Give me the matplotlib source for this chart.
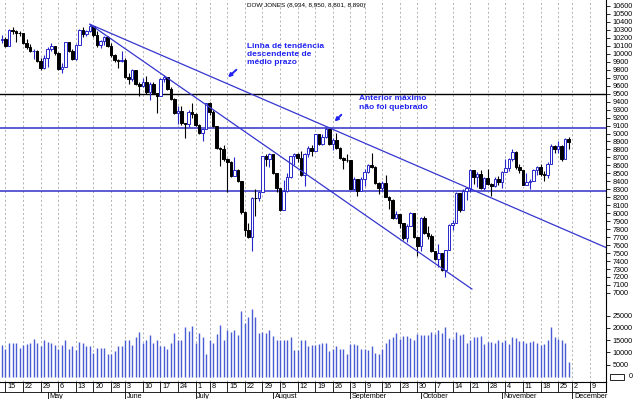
import matplotlib
matplotlib.use('Agg')
import matplotlib.pyplot as plt
import numpy as np
import pandas as pd
from matplotlib.patches import Rectangle

plt.rcParams['font.family'] = ['Liberation Sans', 'DejaVu Sans']

# ---------------- data ----------------
holidays = ['2002-05-27', '2002-07-04', '2002-09-02', '2002-11-28']
axis_dates = [d for d in pd.bdate_range('2002-04-12', '2002-12-13')
              if d.strftime('%Y-%m-%d') not in holidays]

opens = [10176, 10191, 10094, 10301, 10281, 10262, 10257, 10136, 10089, 10030,
         10035, 9911, 9820, 9946, 10060, 10092, 10007, 9808, 9837, 10142,
         10037, 9940, 10110, 10298, 10244, 10289, 10353, 10230, 10106, 10158,
         10216, 10104, 9982, 9923, 9912, 9925, 9710, 9688, 9797, 9625,
         9590, 9645, 9517, 9618, 9503, 9474, 9687, 9706, 9562, 9432,
         9254, 9282, 9127, 9120, 9270, 9243, 9110, 9008, 9055, 9380,
         9275, 9096, 8814, 8802, 8685, 8639, 8473, 8542, 8409, 8019,
         7785, 7702, 8191, 8186, 8264, 8712, 8680, 8737, 8507, 8313,
         8044, 8274, 8456, 8712, 8745, 8689, 8482, 8743, 8818, 8778,
         8991, 8872, 8957, 9054, 8873, 8919, 8824, 8694, 8670, 8664,
         8308, 8425, 8284, 8427, 8519, 8603, 8581, 8379, 8313, 8380,
         8208, 8172, 7942, 7986, 7872, 7683, 7842, 7997, 7701, 7592,
         7939, 7756, 7717, 7528, 7423, 7501, 7286, 7534, 7850, 7877,
         8256, 8036, 8275, 8322, 8538, 8450, 8494, 8317, 8444, 8368,
         8338, 8428, 8397, 8518, 8572, 8678, 8771, 8586, 8537, 8359,
         8386, 8398, 8542, 8579, 8487, 8475, 8623, 8845, 8805, 8849,
         8676, 8934]
highs = [10230, 10215, 10315, 10330, 10300, 10290, 10265, 10180, 10120, 10060,
         10050, 9950, 9980, 10080, 10130, 10095, 10020, 9880, 10150, 10150,
         10060, 10120, 10310, 10330, 10300, 10370, 10355, 10290, 10170, 10220,
         10220, 10130, 10000, 9930, 10040, 9950, 9760, 9810, 9800, 9640,
         9700, 9720, 9640, 9650, 9510, 9700, 9740, 9710, 9580, 9440,
         9340, 9350, 9130, 9290, 9380, 9260, 9120, 9060, 9380, 9400,
         9290, 9100, 8830, 8860, 8690, 8660, 8700, 8560, 8410, 8030,
         7880, 8200, 8300, 8270, 8720, 8740, 8750, 8740, 8510, 8320,
         8420, 8500, 8720, 8760, 8750, 8780, 8750, 8840, 8850, 9000,
         9000, 8990, 9077, 9060, 8940, 9010, 8830, 8700, 8740, 8665,
         8450, 8430, 8450, 8560, 8620, 8760, 8590, 8390, 8400, 8480,
         8220, 8175, 8030, 7990, 7880, 7870, 8010, 8000, 7705, 7950,
         7960, 7840, 7740, 7530, 7620, 7505, 7540, 7870, 7910, 8260,
         8256, 8300, 8330, 8550, 8540, 8520, 8540, 8460, 8560, 8380,
         8460, 8470, 8530, 8680, 8690, 8800, 8775, 8620, 8540, 8500,
         8430, 8550, 8590, 8620, 8530, 8640, 8870, 8850, 8900, 8860,
         8940, 8950]
lows = [10140, 10080, 10094, 10250, 10150, 10220, 10120, 10060, 10020, 9930,
        9900, 9800, 9815, 9830, 10030, 9990, 9800, 9760, 9837, 10020,
        9920, 9920, 10110, 10210, 10220, 10270, 10210, 10090, 10070, 10110,
        10090, 9960, 9900, 9820, 9900, 9700, 9620, 9660, 9610, 9470,
        9580, 9500, 9420, 9490, 9260, 9474, 9640, 9540, 9420, 9240,
        9120, 9110, 8940, 9080, 9200, 9090, 8990, 8900, 9055, 9230,
        9080, 8800, 8590, 8660, 8260, 8450, 8470, 8390, 7990, 7720,
        7690, 7532, 7960, 8150, 8264, 8590, 8580, 8490, 8260, 8030,
        8044, 8270, 8440, 8610, 8640, 8470, 8340, 8710, 8720, 8778,
        8860, 8850, 8940, 8860, 8790, 8800, 8680, 8550, 8640, 8300,
        8290, 8210, 8284, 8340, 8500, 8570, 8370, 8240, 8280, 8200,
        8050, 7930, 7930, 7810, 7670, 7640, 7840, 7690, 7460, 7520,
        7740, 7680, 7510, 7410, 7330, 7280, 7197, 7534, 7790, 7877,
        8020, 8036, 8170, 8270, 8370, 8330, 8300, 8290, 8350, 8210,
        8330, 8350, 8320, 8518, 8530, 8650, 8560, 8500, 8350, 8350,
        8300, 8398, 8480, 8470, 8400, 8440, 8623, 8760, 8760, 8660,
        8676, 8801]
closes = [10191, 10094, 10301, 10281, 10262, 10257, 10136, 10089, 10030, 10035,
          9911, 9820, 9946, 10060, 10092, 10007, 9808, 9837, 10142, 10037,
          9940, 10110, 10298, 10244, 10289, 10353, 10230, 10106, 10158, 10216,
          10104, 9982, 9923, 9912, 9925, 9710, 9688, 9797, 9625, 9590,
          9645, 9517, 9618, 9503, 9474, 9687, 9706, 9562, 9432, 9254,
          9282, 9127, 9120, 9270, 9243, 9110, 9008, 9055, 9380, 9275,
          9096, 8814, 8802, 8685, 8639, 8473, 8542, 8409, 8019, 7785,
          7702, 8191, 8186, 8264, 8712, 8680, 8737, 8507, 8313, 8044,
          8274, 8456, 8712, 8745, 8689, 8482, 8743, 8818, 8778, 8991,
          8872, 8957, 9054, 8873, 8919, 8824, 8694, 8670, 8664, 8308,
          8425, 8284, 8427, 8519, 8603, 8581, 8379, 8313, 8380, 8208,
          8172, 7942, 7986, 7872, 7683, 7842, 7997, 7701, 7592, 7939,
          7756, 7717, 7528, 7423, 7501, 7286, 7534, 7850, 7877, 8256,
          8036, 8275, 8322, 8538, 8450, 8494, 8317, 8444, 8368, 8338,
          8428, 8397, 8518, 8572, 8678, 8771, 8586, 8537, 8359, 8386,
          8398, 8542, 8579, 8487, 8475, 8623, 8845, 8805, 8849, 8676,
          8932, 8890]
volumes = [13000, 11250, 13700, 13700, 13800, 11800, 13000, 13400, 13700, 15400,
           13700, 12800, 15200, 14400, 13700, 13200, 11250, 13200, 15000, 11250,
           12500, 10900, 14200, 13700, 12800, 12800, 9750, 11800, 11800, 11800,
           9500, 9500, 10400, 12500, 12500, 15000, 15000, 13000, 16300, 18300,
           13800, 15000, 17100, 14000, 15200, 12500, 12500, 11200, 13700, 17800,
           15200, 15000, 20300, 18700, 20700, 14000, 17800, 16400, 9500, 15200,
           13700, 17600, 21000, 15200, 19000, 18300, 19000, 17100, 26800, 22000,
           24500, 27500, 24500, 17800, 18300, 17800, 19300, 16700, 15200, 15000,
           15000, 15000, 16400, 10900, 10900, 15000, 15200, 12800, 13000, 13000,
           13300, 13700, 14000, 10400, 11400, 12500, 11400, 11400, 9350, 13300,
           13300, 13000, 11400, 11400, 10900, 12500, 9700, 9500, 11400, 14000,
           15400, 16300, 17800, 15400, 16700, 16700, 16000, 15000, 17500, 17200,
           17000, 17000, 18300, 17600, 19000, 17800, 20300, 15800, 15400, 18300,
           17200, 17600, 14000, 15000, 16400, 16300, 16800, 13300, 14400, 14400,
           13700, 15200, 14400, 15000, 13300, 16300, 15800, 14600, 14600, 13700,
           14400, 14600, 13700, 13000, 13300, 15000, 20300, 16300, 15400, 15200,
           13700, 6000]

price_ticks = list(range(7000, 10700, 100))
volume_ticks = [5000, 10000, 15000, 20000, 25000]
support_lines = [9500, 9070, 8280]
trend_long = ([25, 171.9], [10370, 7564])
trend_steep = ([25, 133.5], [10370, 7049])
title_text = 'DOW JONES (8,934, 8,950, 8,801, 8,890)'
note1 = 'Linha de tendência\ndescendente de\nmédio prazo'
note2 = 'Anterior máximo\nnão foi quebrado'

# ---------------- figure ----------------
W, H = 634, 399
BLUE = '#2626c8'
TXTBLUE = '#2222f0'
fig = plt.figure(figsize=(W / 100, H / 100), dpi=100)
fig.patch.set_facecolor('white')
axw = 606 / W
axp = fig.add_axes([0, (H - 301.7) / H, axw, 301.7 / H])
axv = fig.add_axes([0, 17.3 / H, axw, 80.0 / H], sharex=axp)
axd = fig.add_axes([0, 0, axw, 17.3 / H], sharex=axp)

o = np.array(opens, float); h = np.array(highs, float)
l = np.array(lows, float); c = np.array(closes, float)
v = np.array(volumes, float)
x = np.arange(len(c))
up = c >= o

xlim = (-0.56, 171.6)

# week / month starts
week_pos, week_lab, month_pos, month_lab = [], [], [], []
for i in range(1, len(axis_dates)):
    d, p = axis_dates[i], axis_dates[i - 1]
    if d.isocalendar()[1] != p.isocalendar()[1]:
        week_pos.append(i); week_lab.append(str(d.day))
    if d.month != p.month:
        month_pos.append(i); month_lab.append(d.strftime('%B'))

for ax in (axp, axv):
    for wp in week_pos:
        ax.axvline(wp, color='#b0b0b0', lw=0.7, ls=(0, (2, 2.5)), zorder=0)

# price panel
axp.vlines(x[up], l[up], h[up], color=BLUE, lw=0.8, zorder=2)
axp.vlines(x[~up], l[~up], h[~up], color='black', lw=0.8, zorder=2)
axp.bar(x[up], c[up] - o[up], bottom=o[up], width=0.72, facecolor='white',
        edgecolor=BLUE, lw=0.7, zorder=3)
axp.bar(x[~up], o[~up] - c[~up], bottom=c[~up], width=0.72, facecolor='black',
        edgecolor='black', lw=0.7, zorder=3)

axp.axhline(support_lines[0], color='black', lw=1.0, zorder=1)
axp.axhline(support_lines[1], color='#3030c8', lw=1.1, zorder=1)
axp.axhline(support_lines[2], color='#3030c8', lw=1.1, zorder=1)
axp.plot(*trend_long, color='#3535d0', lw=0.9, zorder=4)
axp.plot(*trend_steep, color='#3535d0', lw=0.9, zorder=4)

axp.text(69.5, 10140, note1, fontsize=6, fontweight='bold', color=TXTBLUE,
         va='top', ha='left', linespacing=1.25)
axp.text(101.5, 9480, note2, fontsize=6, fontweight='bold', color=TXTBLUE,
         va='top', ha='left', linespacing=1.25)
arrow = dict(arrowstyle='-|>', color=TXTBLUE, lw=1.4, mutation_scale=5,
             shrinkA=0, shrinkB=0)
axp.annotate('', xy=(64.2, 9705), xytext=(66.6, 9800), arrowprops=arrow)
axp.annotate('', xy=(94.5, 9150), xytext=(96.4, 9235), arrowprops=arrow)

axp.set_xlim(*xlim)
axp.set_ylim(6890, 10675)
axp.set_yticks(price_ticks)
axp.set_yticklabels([str(t) for t in price_ticks])

# volume panel
axv.vlines(x, 0, v, color='#4a5cd4', lw=1.0, zorder=2)
axv.set_ylim(-1910, 30610)
axv.set_yticks(volume_ticks)
axv.set_yticklabels([str(t) for t in volume_ticks])

for ax in (axp, axv):
    for s in ('left', 'top', 'bottom'):
        ax.spines[s].set_visible(False)
    ax.spines['right'].set_linewidth(0.8)
    ax.yaxis.tick_right()
    ax.tick_params(axis='y', direction='out', length=3, width=0.6,
                   labelsize=5.2, pad=1.5)
    ax.tick_params(axis='x', bottom=False, labelbottom=False)
    ax.set_facecolor('white')

# date strip
axd.set_ylim(0, 17.3)
for s in ('left', 'bottom'):
    axd.spines[s].set_visible(False)
axd.spines['top'].set_linewidth(0.8)
axd.spines['right'].set_linewidth(0.8)
axd.spines['right'].set_bounds(7.3, 17.3)
axd.set_xticks([]); axd.set_yticks([])
axd.axhline(7.3, color='black', lw=0.6)
axd.vlines(week_pos, 7.3, 17.3, color='black', lw=0.6)
for wp, wl in zip(week_pos, week_lab):
    axd.text(wp + 0.5, 12.1, wl, fontsize=5.2, va='center', ha='left')
axd.vlines(month_pos, 0, 7.3, color='black', lw=0.6)
for mp, ml in zip(month_pos, month_lab):
    axd.text(mp + 0.5, 2.9, ml, fontsize=5.2, va='center', ha='left')

# title and corner items
fig.text(247 / W, 1 - 5.5 / H, title_text, fontsize=4.6, va='center', ha='left')
fig.text(629 / W, 1 - 377 / H, '0', fontsize=5.2, va='center', ha='left')
fig.add_artist(Rectangle((610 / W, (H - 380) / H), 14 / W, 6 / H,
                         transform=fig.transFigure, fill=False, lw=0.6,
                         edgecolor='black'))

fig.savefig('out.png', dpi=100, facecolor='white')
